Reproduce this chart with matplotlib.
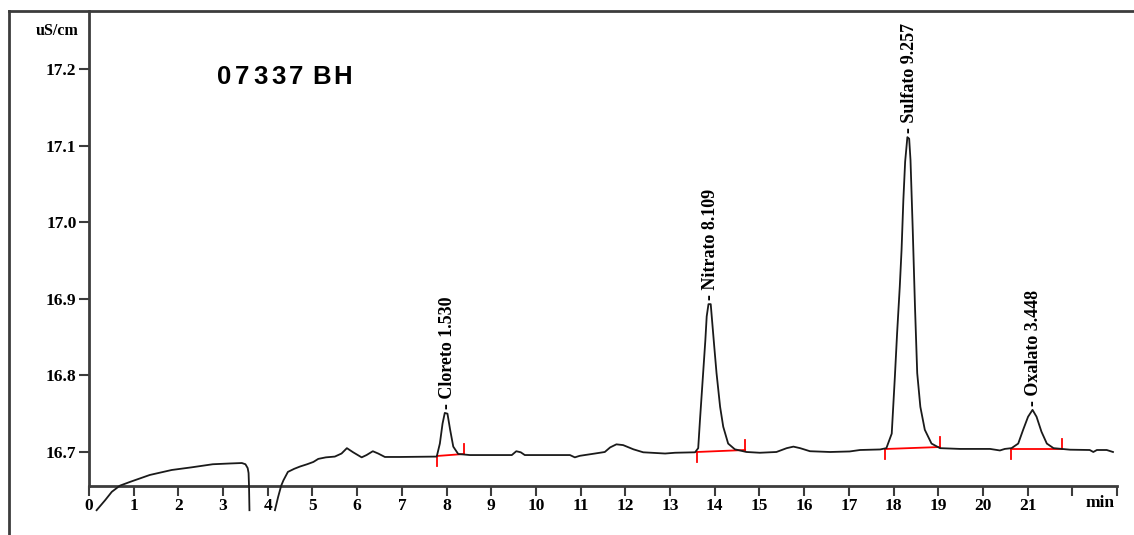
import numpy as np
import matplotlib
matplotlib.use("Agg")
import matplotlib.pyplot as plt
from matplotlib.lines import Line2D

# conductivity trace (min, uS/cm); NaN splits the trace at the injection gap
trace_t = [
    0.17, 0.36, 0.51, 0.69, 0.92, 1.36, 1.85, 2.30, 2.77, 3.15, 3.42, 3.50,
    3.55, 3.57, 3.58, 3.59, np.nan,
    4.16, 4.23, 4.30, 4.35, 4.45, 4.59, 4.72, 4.88, 5.02, 5.13, 5.30, 5.50,
    5.65, 5.77, 5.91, 6.10, 6.21, 6.35, 6.47, 6.62, 6.96, 7.78,
    7.85, 7.91, 7.96, 8.02, 8.08, 8.15, 8.26, 8.52, 9.46, 9.56, 9.66, 9.75,
    10.76, 10.87, 10.98, 11.32, 11.54, 11.66, 11.80, 11.95, 12.18, 12.40,
    12.89, 13.11, 13.56,
    13.63, 13.67, 13.73, 13.79, 13.82, 13.86, 13.91, 13.94, 13.99, 14.04,
    14.12, 14.19, 14.30, 14.45, 14.71, 15.01, 15.38, 15.61, 15.76, 15.91,
    16.13, 16.58, 17.02, 17.25, 17.70,
    17.84, 17.96, 18.03, 18.08, 18.14, 18.18, 18.22, 18.26, 18.31, 18.35,
    18.38, 18.43, 18.48, 18.53, 18.60, 18.70, 18.85, 19.04, 19.49, 20.16,
    20.38, 20.49,
    20.64, 20.79, 20.90, 21.01, 21.11, 21.20, 21.31, 21.43, 21.58, 21.95,
    22.39, 22.47, 22.55, 22.77, 22.91,
]
trace_v = [
    16.624, 16.637, 16.648, 16.656, 16.661, 16.670, 16.6765, 16.680, 16.684,
    16.685, 16.6856, 16.684, 16.679, 16.6726, 16.656, 16.624, np.nan,
    16.624, 16.641, 16.656, 16.663, 16.674, 16.678, 16.681, 16.684, 16.687,
    16.691, 16.693, 16.694, 16.698, 16.705, 16.6996, 16.693, 16.696, 16.701,
    16.698, 16.6935, 16.6935, 16.694,
    16.711, 16.737, 16.751, 16.750, 16.729, 16.707, 16.6974, 16.696, 16.696,
    16.701, 16.6996, 16.696,
    16.696, 16.693, 16.695, 16.698, 16.700, 16.706, 16.710, 16.709, 16.7035,
    16.6996, 16.698, 16.699, 16.6996,
    16.705, 16.742, 16.794, 16.846, 16.877, 16.893, 16.893, 16.872, 16.837,
    16.803, 16.759, 16.733, 16.711, 16.7035, 16.700, 16.699, 16.700, 16.705,
    16.707, 16.705, 16.701, 16.700, 16.7007, 16.7026, 16.7033,
    16.705, 16.724, 16.798, 16.855, 16.916, 16.964, 17.029, 17.079, 17.111,
    17.109, 17.081, 16.990, 16.890, 16.803, 16.759, 16.729, 16.711, 16.705,
    16.704, 16.704, 16.702, 16.704,
    16.705, 16.711, 16.729, 16.746, 16.755, 16.746, 16.7265, 16.711, 16.705,
    16.703, 16.7026, 16.700, 16.7026, 16.7026, 16.700,
]

# identified peaks
peak_names = ["Cloreto", "Nitrato", "Sulfato", "Oxalato"]
peak_amounts = ["1.530", "8.109", "9.257", "3.448"]
peak_rt = [7.99, 13.88, 18.33, 21.11]
peak_top = [16.751, 16.893, 17.111, 16.755]

# integration baselines
base_t0 = [7.79, 13.60, 17.81, 20.63]
base_t1 = [8.39, 14.68, 19.04, 21.77]
base_v0 = [16.6948, 16.7000, 16.7039, 16.7039]
base_v1 = [16.6974, 16.7026, 16.7065, 16.7039]

y_ticks = [16.7, 16.8, 16.9, 17.0, 17.1, 17.2]
x_ticks = list(range(24))
x_labels = [str(i) for i in range(22)] + ["", ""]

plt.rcParams["font.family"] = ["Liberation Serif", "DejaVu Serif"]
plt.rcParams["font.weight"] = "bold"

W, H = 1134, 535
fig = plt.figure(figsize=(W / 100, H / 100), dpi=100)
ax = fig.add_axes([89 / W, 49 / H, 1028 / W, 475 / H])

dark = "#3c3c3c"

ax.plot(trace_t, trace_v, color="#1a1a1a", lw=1.3, clip_on=False, zorder=3)

# baselines with start/end markers
tick = 0.013
for t0, t1, v0, v1 in zip(base_t0, base_t1, base_v0, base_v1):
    ax.plot([t0, t1], [v0, v1], color="red", lw=1.3, zorder=2)
    ax.plot([t0, t0], [v0 - tick, v0], color="red", lw=1.3, zorder=2)
    ax.plot([t1, t1], [v1, v1 + tick], color="red", lw=1.3, zorder=2)

for name, amt, rt, top in zip(peak_names, peak_amounts, peak_rt, peak_top):
    ax.annotate(f"- {name} {amt}", xy=(rt, top), xytext=(1, 3),
                textcoords="offset points", rotation=90, ha="center",
                va="bottom", fontsize=13, fontweight="bold", color="black")

ax.set_xlim(0, 23)
ax.set_ylim(16.6556, 17.2757)
ax.set_xticks(x_ticks)
ax.set_xticklabels(x_labels)
ax.set_yticks(y_ticks)
ax.set_yticklabels([f"{v:.1f}" for v in y_ticks])
ax.tick_params(axis="both", direction="out", length=7, width=1.5,
               color=dark, labelsize=12.5, labelcolor="black")
ax.tick_params(axis="y", pad=2)
ax.tick_params(axis="x", pad=2)

for s in ["top", "right"]:
    ax.spines[s].set_visible(False)
for s in ["left", "bottom"]:
    ax.spines[s].set_color(dark)
    ax.spines[s].set_linewidth(2)

# outer frame
fig.add_artist(Line2D([9 / W, 9 / W], [0, 1 - 11 / H], color=dark, lw=2,
                      transform=fig.transFigure))
fig.add_artist(Line2D([9 / W, 1], [1 - 11 / H, 1 - 11 / H], color=dark,
                      lw=2, transform=fig.transFigure))

fig.text(79 / W, 1 - 31 / H, "uS/cm", ha="right", va="center",
         fontsize=11.5, fontweight="bold")
fig.text(1100 / W, 1 - 503 / H, "min", ha="center", va="center",
         fontsize=12.5, fontweight="bold")

# sample id, spaced out letter by letter
x = 217
for ch in "07337 BH":
    if ch == " ":
        x += 5
        continue
    fig.text(x / W, 1 - 77 / H, ch, ha="left", va="center", fontsize=18.5,
             fontweight="bold", family="Liberation Sans")
    x += 18 if ch.isdigit() else 21

fig.savefig("out.png", dpi=100, facecolor="white")
